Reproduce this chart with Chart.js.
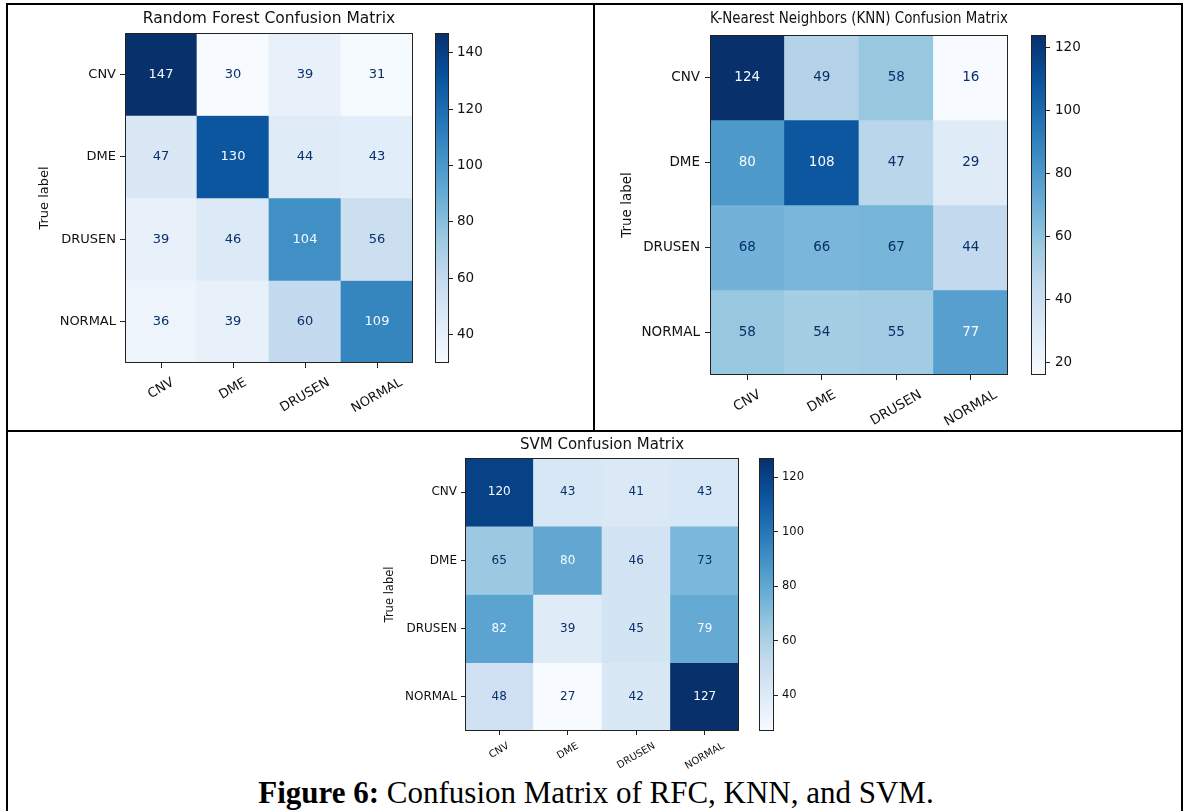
<!DOCTYPE html>
<html>
<head>
<meta charset="utf-8">
<title>Figure 6: Confusion Matrix of RFC, KNN, and SVM</title>
<script src="https://cdn.jsdelivr.net/npm/chart.js@4.4.1/dist/chart.umd.min.js"></script>
<style>
    html, body { margin: 0; padding: 0; background: #fff; }
    body { width: 1192px; height: 811px; position: relative; overflow: hidden; }
    .box { position: absolute; }
    .rule { position: absolute; background: #000; z-index: 5; }
    #caption {
        position: absolute; left: 0; top: 776px; width: 1192px;
        text-align: center; font-family: "Liberation Serif", serif;
        font-size: 31px; line-height: 34px; color: #000;
    }
</style>
</head>
<body>

<!-- table rules around the three panels -->
<div class="rule" style="left:6px;top:3px;width:1177px;height:2px"></div>
<div class="rule" style="left:6px;top:3px;width:2px;height:808px"></div>
<div class="rule" style="left:1181px;top:3px;width:2px;height:808px"></div>
<div class="rule" style="left:593px;top:3px;width:2px;height:429px"></div>
<div class="rule" style="left:6px;top:430px;width:1177px;height:2px"></div>

<div class="box" style="left:8px;top:5px;width:420px;height:420px"><canvas id="rfMat"></canvas></div>
<div class="box" style="left:430px;top:5px;width:60px;height:420px"><canvas id="rfBar"></canvas></div>

<div class="box" style="left:600px;top:5px;width:420px;height:425px"><canvas id="knnMat"></canvas></div>
<div class="box" style="left:1026px;top:5px;width:60px;height:425px"><canvas id="knnBar"></canvas></div>

<div class="box" style="left:375px;top:434px;width:375px;height:340px"><canvas id="svmMat"></canvas></div>
<div class="box" style="left:754px;top:434px;width:55px;height:340px"><canvas id="svmBar"></canvas></div>

<div id="caption"><b>Figure 6:</b> Confusion Matrix of RFC, KNN, and SVM.</div>

<script>
const classLabels = ['CNV', 'DME', 'DRUSEN', 'NORMAL'];

// rows = true label, columns = predicted label
const rfMatrix = [
    [147, 30, 39, 31],
    [47, 130, 44, 43],
    [39, 46, 104, 56],
    [36, 39, 60, 109]
];
const knnMatrix = [
    [124, 49, 58, 16],
    [80, 108, 47, 29],
    [68, 66, 67, 44],
    [58, 54, 55, 77]
];
const svmMatrix = [
    [120, 43, 41, 43],
    [65, 80, 46, 73],
    [82, 39, 45, 79],
    [48, 27, 42, 127]
];

const rfTicks = [40, 60, 80, 100, 120, 140];
const knnTicks = [20, 40, 60, 80, 100, 120];
const svmTicks = [40, 60, 80, 100, 120];

// matplotlib "Blues"
const BLUES = [
    [247, 251, 255], [222, 235, 247], [198, 219, 239], [158, 202, 225], [107, 174, 214],
    [66, 146, 198], [33, 113, 181], [8, 81, 156], [8, 48, 107]
];
const TEXT_DARK = 'rgb(8,48,107)';
const TEXT_LIGHT = 'rgb(247,251,255)';
const FONT = '"DejaVu Sans", sans-serif';
const INK = '#111';
const FRAME = '#222';

function blues(t) {
    t = Math.max(0, Math.min(1, t));
    const s = t * (BLUES.length - 1);
    const i = Math.min(Math.floor(s), BLUES.length - 2);
    const f = s - i;
    const a = BLUES[i], b = BLUES[i + 1];
    return `rgb(${a.map((v, k) => Math.round(v + (b[k] - v) * f)).join(',')})`;
}

const framePlugin = {
    id: 'frame',
    afterDatasetsDraw(chart) {
        const { ctx, chartArea: a } = chart;
        ctx.save();
        ctx.strokeStyle = FRAME;
        ctx.lineWidth = 1;
        ctx.strokeRect(Math.round(a.left) + 0.5, Math.round(a.top) + 0.5,
            Math.round(a.width) - 1, Math.round(a.height) - 1);
        ctx.restore();
    }
};

// cell counts + rotated, centred predicted-label ticks (like matplotlib)
const matrixPlugin = {
    id: 'matrixText',
    afterDatasetsDraw(chart, args, opts) {
        const { ctx, chartArea: a } = chart;
        ctx.save();
        ctx.textAlign = 'center';
        ctx.textBaseline = 'middle';
        ctx.font = `${opts.cellSize}px ${FONT}`;
        chart.data.datasets.forEach((ds, r) => {
            chart.getDatasetMeta(r).data.forEach((bar, c) => {
                const v = ds.counts[c];
                ctx.fillStyle = v >= opts.thresh ? TEXT_LIGHT : TEXT_DARK;
                ctx.fillText(String(v), bar.x, (bar.y + bar.base) / 2);
            });
        });

        const xs = chart.scales.x;
        const rad = opts.rotation * Math.PI / 180;
        ctx.font = `${opts.xSize}px ${FONT}`;
        ctx.fillStyle = INK;
        classLabels.forEach((lab, i) => {
            const w = ctx.measureText(lab).width;
            const h = w * Math.sin(rad) + opts.xSize * Math.cos(rad);
            ctx.save();
            ctx.translate(xs.getPixelForValue(i), a.bottom + opts.xGap + h / 2);
            ctx.rotate(-rad);
            ctx.fillText(lab, 0, 0);
            ctx.restore();
        });
        ctx.restore();
    }
};

function makeMatrix(id, title, matrix, cfg) {
    const flat = matrix.flat();
    const vmin = Math.min(...flat), vmax = Math.max(...flat);
    const datasets = matrix.map((row, r) => ({
        label: classLabels[r],
        data: row.map(() => [r, r + 1]),
        counts: row,
        backgroundColor: row.map(v => blues((v - vmin) / (vmax - vmin))),
        borderWidth: 0,
        barPercentage: 1,
        categoryPercentage: 1,
        grouped: false
    }));

    return new Chart(document.getElementById(id), {
        type: 'bar',
        data: { labels: classLabels, datasets },
        options: {
            animation: false,
            responsive: true,
            maintainAspectRatio: false,
            layout: { padding: { left: 0, right: cfg.padRight, top: 0, bottom: 0 } },
            plugins: {
                legend: { display: false },
                tooltip: { enabled: false },
                title: {
                    display: true,
                    text: title,
                    fullSize: false,
                    color: INK,
                    font: { family: FONT, size: cfg.titleSize, weight: 'normal' },
                    padding: { top: cfg.titleTop, bottom: cfg.titleBottom }
                },
                matrixText: {
                    thresh: (vmin + vmax) / 2,
                    cellSize: cfg.cellSize,
                    xSize: cfg.xSize,
                    xGap: cfg.xGap,
                    rotation: 30
                }
            },
            scales: {
                x: {
                    offset: true,
                    grid: { offset: false, drawOnChartArea: false, tickLength: cfg.tick, tickColor: FRAME },
                    border: { display: false },
                    ticks: { display: false },
                    afterFit: s => { s.height = cfg.xHeight; }
                },
                y: {
                    min: 0,
                    max: 4,
                    reverse: true,
                    afterBuildTicks: ax => { ax.ticks = classLabels.map((_, i) => ({ value: i + 0.5 })); },
                    afterFit: s => { s.width = cfg.yWidth; },
                    grid: { drawOnChartArea: false, tickLength: cfg.tick, tickColor: FRAME },
                    border: { display: false },
                    ticks: {
                        color: INK,
                        padding: cfg.yPad,
                        font: { family: FONT, size: cfg.ySize },
                        callback: (v, i) => classLabels[i]
                    },
                    title: {
                        display: true,
                        text: 'True label',
                        color: INK,
                        font: { family: FONT, size: cfg.yTitleSize },
                        padding: { top: cfg.yTitlePad, bottom: 0 }
                    }
                }
            }
        },
        plugins: [matrixPlugin, framePlugin]
    });
}

function makeColorbar(id, matrix, ticks, cfg) {
    const flat = matrix.flat();
    const vmin = Math.min(...flat), vmax = Math.max(...flat);

    return new Chart(document.getElementById(id), {
        type: 'bar',
        data: {
            labels: [''],
            datasets: [{
                data: [[vmin, vmax]],
                borderWidth: 0,
                barPercentage: 1,
                categoryPercentage: 1,
                backgroundColor(context) {
                    const { ctx, chartArea } = context.chart;
                    if (!chartArea) return null;
                    const g = ctx.createLinearGradient(0, chartArea.bottom, 0, chartArea.top);
                    BLUES.forEach((c, i) => g.addColorStop(i / (BLUES.length - 1), `rgb(${c.join(',')})`));
                    return g;
                }
            }]
        },
        options: {
            animation: false,
            responsive: true,
            maintainAspectRatio: false,
            layout: { padding: { left: 5, right: 0, top: cfg.top, bottom: cfg.bottom } },
            plugins: { legend: { display: false }, tooltip: { enabled: false } },
            scales: {
                x: { display: false },
                y: {
                    position: 'right',
                    min: vmin,
                    max: vmax,
                    afterBuildTicks: ax => { ax.ticks = ticks.map(v => ({ value: v })); },
                    afterFit: s => { s.width = cfg.axisWidth; },
                    grid: { drawOnChartArea: false, tickLength: 4, tickColor: FRAME },
                    border: { display: false },
                    ticks: { color: INK, padding: cfg.pad, font: { family: FONT, size: cfg.size } }
                }
            }
        },
        plugins: [framePlugin]
    });
}

makeMatrix('rfMat', 'Random Forest Confusion Matrix', rfMatrix, {
    padRight: 15, titleSize: 15.5, titleTop: 4.2, titleBottom: 5.2,
    yWidth: 117, xHeight: 62, tick: 5, yPad: 4, ySize: 13,
    yTitleSize: 13, yTitlePad: 29.2, cellSize: 13, xSize: 13, xGap: 13
});
makeColorbar('rfBar', rfMatrix, rfTicks, { top: 28, bottom: 62, axisWidth: 41, pad: 4, size: 13.5 });

makeMatrix('knnMat', 'K-Nearest Neighbors (KNN) Confusion Matrix', knnMatrix, {
    padRight: 12, titleSize: 16, titleTop: 4.4, titleBottom: 6.4,
    yWidth: 110, xHeight: 55, tick: 5, yPad: 5, ySize: 13.5,
    yTitleSize: 13.5, yTitlePad: 18.9, cellSize: 13.5, xSize: 13.5, xGap: 13
});
makeColorbar('knnBar', knnMatrix, knnTicks, { top: 30, bottom: 55, axisWidth: 40, pad: 5, size: 13.5 });

makeMatrix('svmMat', 'SVM Confusion Matrix', svmMatrix, {
    padRight: 11, titleSize: 15, titleTop: 2.5, titleBottom: 3.5,
    yWidth: 90, xHeight: 43, tick: 4, yPad: 4, ySize: 12,
    yTitleSize: 11.5, yTitlePad: 8.1, cellSize: 12, xSize: 10, xGap: 10
});
makeColorbar('svmBar', svmMatrix, svmTicks, { top: 24, bottom: 43, axisWidth: 35, pad: 4, size: 11.5 });
</script>
</body>
</html>
